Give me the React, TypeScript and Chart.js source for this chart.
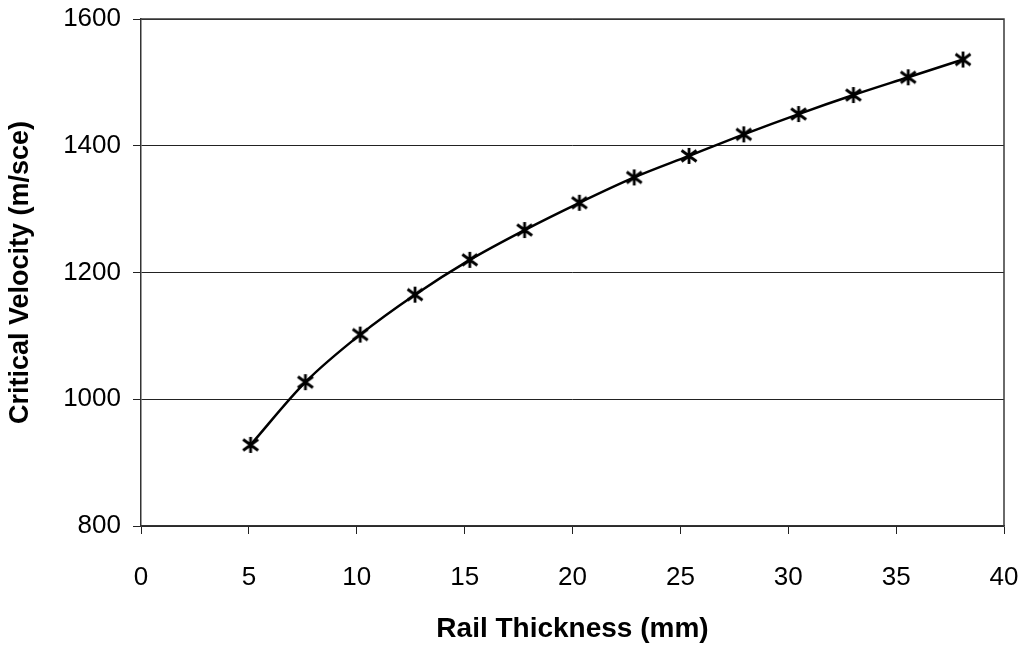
import React, { useEffect, useRef } from "react";
import { Chart, registerables } from "chart.js";

Chart.register(...registerables);

const thickness = [5.08, 7.62, 10.16, 12.7, 15.24, 17.78, 20.32, 22.86, 25.4, 27.94, 30.48, 33.02, 35.56, 38.1];
const velocity = [928, 1027, 1102, 1165, 1220, 1267, 1310, 1350, 1384, 1418, 1450, 1480, 1508, 1536];
const xTitle = "Rail Thickness (mm)";
const yTitle = "Critical Velocity (m/sce)";

function makeAsterisk(): HTMLCanvasElement {
  const c = document.createElement("canvas");
  c.width = 20;
  c.height = 20;
  const ctx = c.getContext("2d")!;
  ctx.strokeStyle = "#000";
  ctx.lineWidth = 2.8;
  ctx.lineCap = "butt";
  ctx.beginPath();
  ctx.moveTo(10, 2);
  ctx.lineTo(10, 18);
  ctx.moveTo(2.5, 4.5);
  ctx.lineTo(17.5, 15.5);
  ctx.moveTo(2.5, 15.5);
  ctx.lineTo(17.5, 4.5);
  ctx.stroke();
  return c;
}

const frame = {
  id: "frame",
  afterDraw(chart: any) {
    const { ctx, chartArea } = chart;
    ctx.save();
    ctx.strokeStyle = "#3a3a3a";
    ctx.lineWidth = 1.5;
    ctx.beginPath();
    ctx.moveTo(chartArea.left, chartArea.top);
    ctx.lineTo(chartArea.right, chartArea.top);
    ctx.lineTo(chartArea.right, chartArea.bottom);
    ctx.stroke();
    ctx.restore();
  },
};

export default function App() {
  const ref = useRef<HTMLCanvasElement | null>(null);
  useEffect(() => {
    if (!ref.current) return;
    const font = "'Liberation Sans', Arial, sans-serif";
    const chart = new Chart(ref.current, {
      type: "line",
      data: {
        datasets: [
          {
            data: thickness.map((x, i) => ({ x, y: velocity[i] })),
            borderColor: "#000",
            borderWidth: 2.5,
            cubicInterpolationMode: "monotone",
            pointStyle: makeAsterisk() as any,
            pointRadius: 9,
            fill: false,
          },
        ],
      },
      options: {
        animation: false,
        responsive: false,
        layout: { padding: { top: 19, right: 22, left: 0, bottom: 0 } },
        plugins: { legend: { display: false }, tooltip: { enabled: false } },
        scales: {
          x: {
            type: "linear",
            min: 0,
            max: 40,
            ticks: {
              stepSize: 5,
              color: "#000",
              font: { family: font, size: 26 },
              padding: 28,
              callback: (v: any) => String(v),
            },
            grid: { drawOnChartArea: false, drawTicks: true, tickLength: 8, color: "#222" },
            border: { display: true, color: "#333", width: 1.5 },
            title: {
              display: true,
              text: xTitle,
              color: "#000",
              font: { family: font, size: 28, weight: "bold" },
              padding: { top: 4, bottom: 4 },
            },
            afterFit(scale: any) {
              scale.height = 124;
              scale.paddingLeft = 0;
              scale.paddingRight = 0;
            },
          },
          y: {
            min: 800,
            max: 1600,
            ticks: {
              stepSize: 200,
              color: "#000",
              font: { family: font, size: 26 },
              padding: 12,
              callback: (v: any) => String(v),
            },
            grid: { drawOnChartArea: true, drawTicks: true, tickLength: 8, color: "#222", lineWidth: 1 },
            border: { display: true, color: "#333", width: 1.5 },
            title: {
              display: true,
              text: yTitle,
              color: "#000",
              font: { family: font, size: 27, weight: "bold" },
              padding: { top: 4, bottom: 4 },
            },
            afterFit(scale: any) {
              scale.width = 141;
              scale.paddingTop = 0;
              scale.paddingBottom = 0;
            },
          },
        },
      },
      plugins: [frame],
    });
    return () => chart.destroy();
  }, []);
  return (
    <canvas
      ref={ref}
      width={1026}
      height={650}
      style={{ position: "fixed", left: 0, top: 0, width: 1026, height: 650, background: "#fff" }}
    />
  );
}
